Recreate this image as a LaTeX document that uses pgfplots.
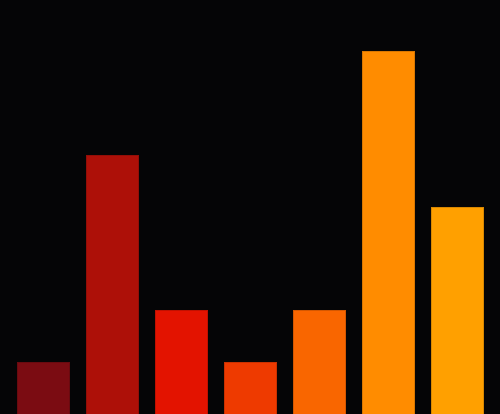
\documentclass[border=0pt]{standalone}
\usepackage{pgfplots}
\pgfplotsset{compat=1.18}
\definecolor{bg}{HTML}{050506}
\definecolor{cA}{HTML}{7B0C12}
\definecolor{cB}{HTML}{AD1008}
\definecolor{cC}{HTML}{E31300}
\definecolor{cD}{HTML}{EE3A00}
\definecolor{cE}{HTML}{F96600}
\definecolor{cF}{HTML}{FF8C00}
\definecolor{cG}{HTML}{FFA000}
\begin{document}
\begin{tikzpicture}
\begin{axis}[
    scale only axis,
    width=500pt, height=414pt,
    xmin=-0.623, xmax=6.623,
    ymin=0, ymax=8,
    ticks=none,
    axis line style={draw=none},
    axis background/.style={fill=bg},
    ybar, bar shift=0pt, bar width=0.754,
    every axis plot/.append style={line width=0.8pt},
]
\addplot[fill=cA, draw=cA!85!black] coordinates {(0,1)};
\addplot[fill=cB, draw=cB!85!black] coordinates {(1,5)};
\addplot[fill=cC, draw=cC!85!black] coordinates {(2,2)};
\addplot[fill=cD, draw=cD!85!black] coordinates {(3,1)};
\addplot[fill=cE, draw=cE!85!black] coordinates {(4,2)};
\addplot[fill=cF, draw=cF!85!black] coordinates {(5,7)};
\addplot[fill=cG, draw=cG!85!black] coordinates {(6,4)};
\end{axis}
\end{tikzpicture}
\end{document}
